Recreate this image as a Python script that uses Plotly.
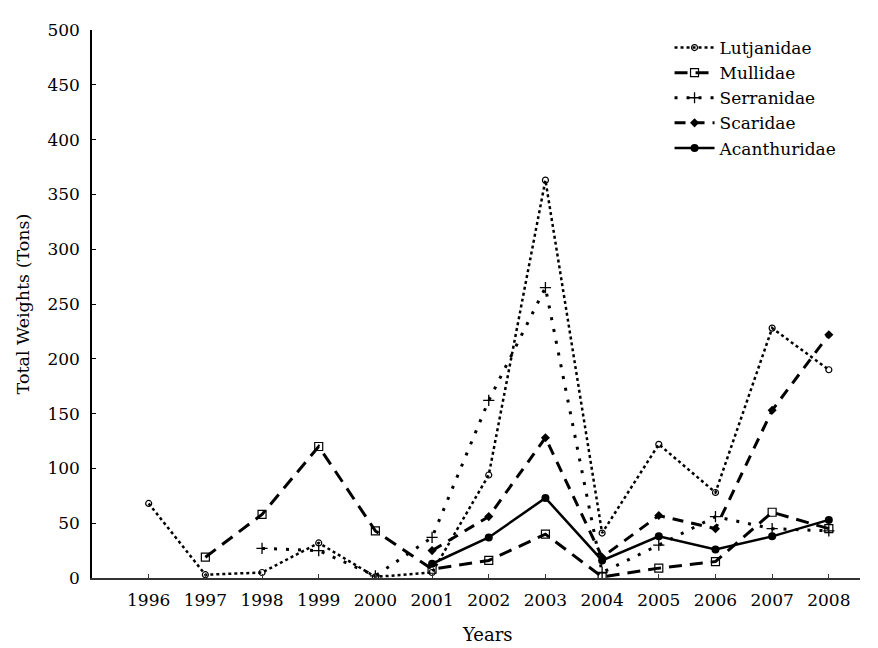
import plotly.graph_objects as go

years = [1996, 1997, 1998, 1999, 2000, 2001, 2002, 2003, 2004, 2005, 2006, 2007, 2008]
lutjanidae = [68, 3, 5, 32, 1, 5, 94, 363, 41, 122, 78, 228, 190]
mullidae = [None, 19, 58, 120, 43, 8, 16, 40, 1, 9, 15, 60, 45]
serranidae = [None, None, 27, 25, 2, 37, 162, 265, 5, 30, 56, 45, 43]
scaridae = [None, None, None, None, None, 25, 56, 128, 19, 57, 45, 153, 222]
acanthuridae = [None, None, None, None, None, 13, 37, 73, 16, 38, 26, 38, 53]

FONT = "DejaVu Serif"

fig = go.Figure()
fig.add_trace(go.Scatter(
    x=years, y=lutjanidae, name="Lutjanidae", mode="lines+markers",
    line=dict(color="black", width=2.5, dash="3px,3px"),
    marker=dict(symbol="circle-open", size=6, color="black", line=dict(width=1.2)),
))
fig.add_trace(go.Scatter(
    x=years, y=mullidae, name="Mullidae", mode="lines+markers",
    line=dict(color="black", width=3, dash="13px,8px"),
    marker=dict(symbol="square-open", size=8, color="black", line=dict(width=1.2)),
))
fig.add_trace(go.Scatter(
    x=years, y=serranidae, name="Serranidae", mode="lines+markers",
    line=dict(color="black", width=3, dash="3px,9px"),
    marker=dict(symbol="cross-thin-open", size=8, color="black", line=dict(width=1.3, color="black")),
))
fig.add_trace(go.Scatter(
    x=years, y=scaridae, name="Scaridae", mode="lines+markers",
    line=dict(color="black", width=3, dash="11px,8px"),
    marker=dict(symbol="diamond", size=7, color="black"),
))
fig.add_trace(go.Scatter(
    x=years, y=acanthuridae, name="Acanthuridae", mode="lines+markers",
    line=dict(color="black", width=2.5),
    marker=dict(symbol="circle", size=8, color="black"),
))

fig.update_layout(
    width=878, height=648,
    margin=dict(l=84, r=26, t=13, b=78),
    paper_bgcolor="white", plot_bgcolor="white",
    font=dict(family=FONT, size=17, color="black"),
    showlegend=True,
    legend=dict(x=0.752, y=1.0, xanchor="left", yanchor="top",
                bgcolor="rgba(0,0,0,0)", borderwidth=0,
                font=dict(family=FONT, size=17), itemwidth=40),
    xaxis=dict(
        range=[1995, 2008.55], tickmode="array", tickvals=years,
        ticktext=[str(y) for y in years],
        showline=True, linecolor="#333", linewidth=1.5,
        ticks="inside", ticklen=4, tickcolor="#333",
        showgrid=False, zeroline=False,
        ticklabelstandoff=6,
        tickfont=dict(family=FONT, size=17),
    ),
    yaxis=dict(
        range=[0, 500], tickmode="array", tickvals=list(range(0, 501, 50)),
        showline=True, linecolor="black", linewidth=1.5,
        ticks="inside", ticklen=4, tickcolor="black",
        showgrid=False, zeroline=False,
        ticklabelstandoff=7,
        title=dict(text="Total Weights (Tons)", standoff=13, font=dict(family=FONT, size=17.5)),
        tickfont=dict(family=FONT, size=17),
    ),
    annotations=[dict(
        text="Years", xref="paper", yref="paper", x=0.515, y=-0.104,
        xanchor="center", yanchor="middle", showarrow=False,
        font=dict(family=FONT, size=18),
    )],
)

fig.write_html("out.html")
